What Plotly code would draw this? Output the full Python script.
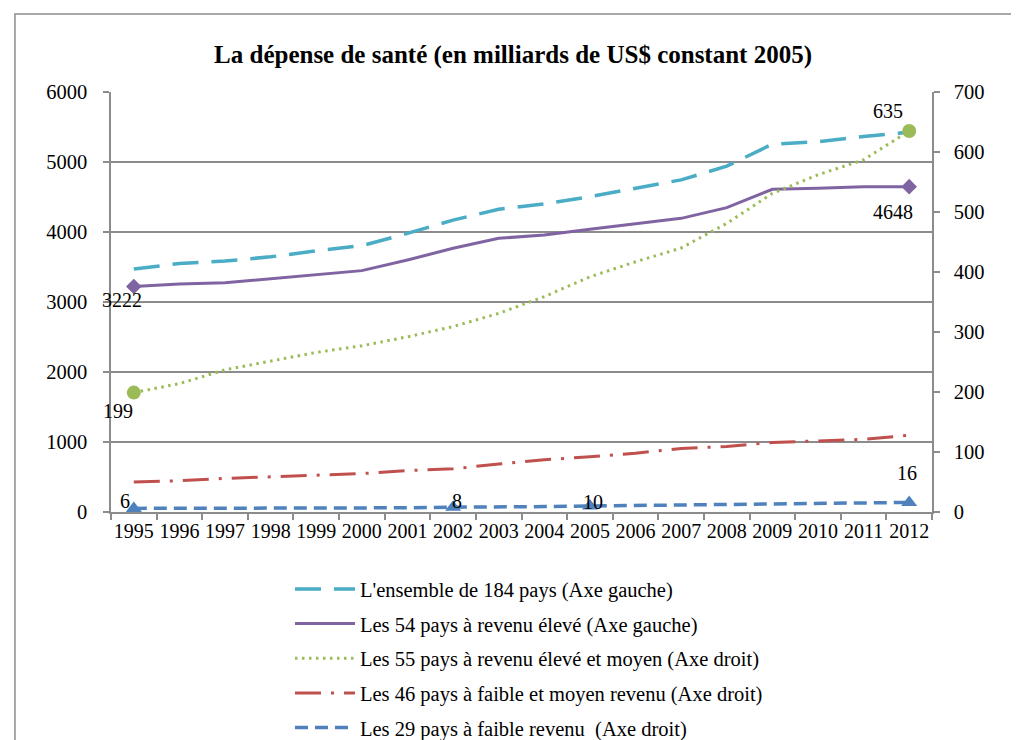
import plotly.graph_objects as go

# years on the category axis
years = [1995, 1996, 1997, 1998, 1999, 2000, 2001, 2002, 2003,
         2004, 2005, 2006, 2007, 2008, 2009, 2010, 2011, 2012]

# left axis series (milliards US$ constant 2005)
ensemble_184 = [3470, 3550, 3585, 3645, 3730, 3805, 3980, 4170, 4325,
                4400, 4505, 4620, 4745, 4940, 5255, 5290, 5365, 5425]
revenu_eleve_54 = [3222, 3257, 3276, 3330, 3386, 3448, 3600, 3767, 3910,
                   3957, 4038, 4114, 4195, 4348, 4610, 4624, 4648, 4648]

# right axis series
eleve_moyen_55 = [199, 214, 237, 252, 266, 277, 292, 309, 331,
                  359, 392, 417, 440, 481, 531, 562, 587, 635]
faible_moyen_46 = [50, 52, 56, 59, 61, 64, 69, 72, 80,
                   87, 92, 98, 106, 109, 116, 118, 121, 128]
faible_29 = [6, 6, 6, 7, 7, 7, 7, 8, 8,
             9, 10, 11, 11, 12, 13, 14, 15, 16]

names = [
    "L'ensemble de 184 pays (Axe gauche)",
    "Les 54 pays à revenu élevé (Axe gauche)",
    "Les 55 pays à revenu élevé et moyen (Axe droit)",
    "Les 46 pays à faible et moyen revenu (Axe droit)",
    "Les 29 pays à faible revenu  (Axe droit)",
]

CYAN = "#4BACC6"
PURPLE = "#8064A2"
GREEN = "#9BBB59"
RED = "#C0504D"
BLUE = "#4F81BD"
GRID = "#8C8C8C"
FONT = "Liberation Serif"

fig = go.Figure()

# main lines
series = [
    (ensemble_184, "y", CYAN, 3.5, "26px,13px"),
    (revenu_eleve_54, "y", PURPLE, 3, "solid"),
    (eleve_moyen_55, "y2", GREEN, 3, "2.5px,4.5px"),
    (faible_moyen_46, "y2", RED, 3, "26px,10px,3px,10px"),
    (faible_29, "y2", BLUE, 3.5, "13px,7px"),
]
for i, (vals, axis, color, width, dash) in enumerate(series):
    fig.add_trace(go.Scatter(
        x=years, y=vals, yaxis=axis, name=names[i], mode="lines",
        line=dict(color=color, width=width, dash=dash),
        legendgroup=f"g{i}", hoverinfo="skip",
    ))

# marked points with data labels (index, xshift, yshift)
marked = [
    (revenu_eleve_54, "y", PURPLE, "diamond", 12, [(0, -12, -14), (17, -16, -25)]),
    (eleve_moyen_55, "y2", GREEN, "circle", 14, [(0, -16, -18), (17, -21, 20)]),
    (faible_29, "y2", BLUE, "triangle-up", 14,
     [(0, -9, 7), (7, 4, 6), (10, 3, 4), (17, -2, 29)]),
]
for vals, axis, color, symbol, size, points in marked:
    idx = [p[0] for p in points]
    fig.add_trace(go.Scatter(
        x=[years[k] for k in idx], y=[vals[k] for k in idx], yaxis=axis,
        mode="markers", showlegend=False, hoverinfo="skip",
        marker=dict(color=color, symbol=symbol, size=size, line=dict(width=0)),
    ))
    for k, dx, dy in points:
        fig.add_annotation(
            x=years[k], y=vals[k], xref="x", yref=axis, text=str(vals[k]),
            showarrow=False, xshift=dx, yshift=dy,
            font=dict(family=FONT, size=20, color="black"),
        )

# outer chart frame
fig.add_shape(type="rect", xref="paper", yref="paper",
              x0=-0.117, x1=1.2, y0=-0.8, y1=1.186,
              line=dict(color=GRID, width=1.5), layer="below")

# page body adds an 8px offset, so margins are shifted by 8px
fig.update_layout(
    width=1019, height=740,
    margin=dict(l=103, r=95, t=84, b=236, autoexpand=False),
    paper_bgcolor="white", plot_bgcolor="white",
    font=dict(family=FONT, size=20, color="black"),
    title=dict(
        text="<b>La dépense de santé (en milliards de US$ constant 2005)</b>",
        x=0.4956, xanchor="center", y=0.938, yanchor="middle",
        font=dict(family=FONT, size=25, color="black"),
    ),
    xaxis=dict(
        range=[1994.5, 2012.5], tickvals=years, ticktext=[str(y) for y in years],
        ticks="", showgrid=False, zeroline=False,
        showline=True, linecolor=GRID, linewidth=1.5,
        minor=dict(tick0=1994.5, dtick=1, ticks="outside", ticklen=6,
                   tickcolor=GRID, tickwidth=1.5, showgrid=False),
        tickfont=dict(family=FONT, size=20),
    ),
    yaxis=dict(
        range=[0, 6000], dtick=1000, showgrid=True, gridcolor=GRID, gridwidth=1.5,
        zeroline=False, showline=True, linecolor=GRID, linewidth=1.5,
        ticks="outside", ticklen=6, tickcolor=GRID, tickwidth=1.5,
        tickfont=dict(family=FONT, size=20.5), ticklabelstandoff=12,
    ),
    yaxis2=dict(
        range=[0, 700], dtick=100, overlaying="y", side="right", showgrid=False,
        zeroline=False, showline=True, linecolor=GRID, linewidth=1.5,
        ticks="outside", ticklen=6, tickcolor=GRID, tickwidth=1.5,
        tickfont=dict(family=FONT, size=20.5), ticklabelstandoff=10,
    ),
    legend=dict(
        x=0.218, xanchor="left", y=-0.136, yanchor="top",
        font=dict(family=FONT, size=20.5), tracegroupgap=5,
        bgcolor="rgba(0,0,0,0)", itemwidth=60,
    ),
)

fig.write_html("out.html")
